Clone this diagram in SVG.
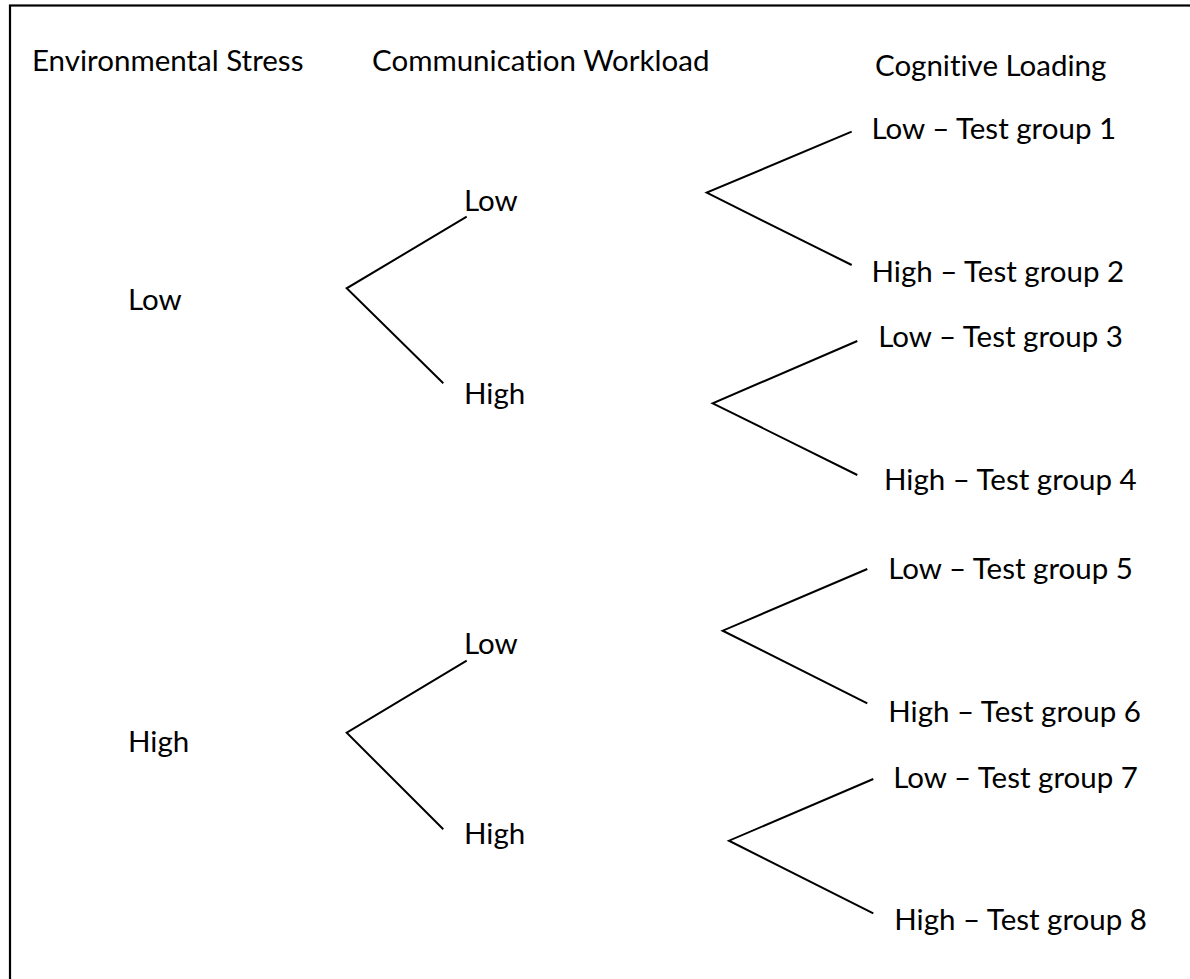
<svg xmlns="http://www.w3.org/2000/svg" width="1190" height="979" viewBox="0 0 1190 979">
  <style>
    .lbl { font-family: Lato, "Liberation Sans", sans-serif; font-size: 29.5px; fill: #000; font-variant-ligatures: none; }
    .edge { stroke: #000; stroke-width: 2; fill: none; stroke-linecap: butt; }
  </style>
  <rect x="0" y="0" width="1190" height="979" fill="#fff"/>
  <!-- outer frame (runs past the right and bottom edges) -->
  <rect x="10" y="5.5" width="1250" height="1050" fill="none" stroke="#000" stroke-width="2.2"/>

  <g id="headers">
    <text class="lbl" x="32" y="70.7">Environmental Stress</text>
    <text class="lbl" x="372" y="70.7">Communication Workload</text>
    <text class="lbl" x="875" y="76">Cognitive Loading</text>
  </g>

  <g id="connectors">
    <polyline class="edge" points="466.7,216.7 346.7,288.3 443.3,383.3"/>
    <polyline class="edge" points="466.7,660.7 346.7,732.7 443.3,829.3"/>
    <polyline class="edge" points="851.7,131.7 706.7,192.7 851.7,265"/>
    <polyline class="edge" points="857.3,341 712.7,403.3 857.3,475"/>
    <polyline class="edge" points="867.3,569 722.7,630.7 867.3,703.3"/>
    <polyline class="edge" points="873.3,779 729,840.7 873.3,913.3"/>
  </g>

  <g id="env-low"><text class="lbl" x="128" y="309.5">Low</text></g>
  <g id="env-high"><text class="lbl" x="128" y="751.5">High</text></g>

  <g id="comm-low-1"><text class="lbl" x="464" y="210.5">Low</text></g>
  <g id="comm-high-1"><text class="lbl" x="464" y="404">High</text></g>
  <g id="comm-low-2"><text class="lbl" x="464" y="654">Low</text></g>
  <g id="comm-high-2"><text class="lbl" x="464" y="844">High</text></g>

  <g id="group-1"><text class="lbl" x="871.5" y="138.5">Low – Test group 1</text></g>
  <g id="group-2"><text class="lbl" x="871.5" y="282">High – Test group 2</text></g>
  <g id="group-3"><text class="lbl" x="878.3" y="346.7">Low – Test group 3</text></g>
  <g id="group-4"><text class="lbl" x="884" y="489.5">High – Test group 4</text></g>
  <g id="group-5"><text class="lbl" x="888.3" y="579">Low – Test group 5</text></g>
  <g id="group-6"><text class="lbl" x="888.3" y="721.5">High – Test group 6</text></g>
  <g id="group-7"><text class="lbl" x="893.3" y="787.5">Low – Test group 7</text></g>
  <g id="group-8"><text class="lbl" x="894.3" y="929.5">High – Test group 8</text></g>
</svg>
